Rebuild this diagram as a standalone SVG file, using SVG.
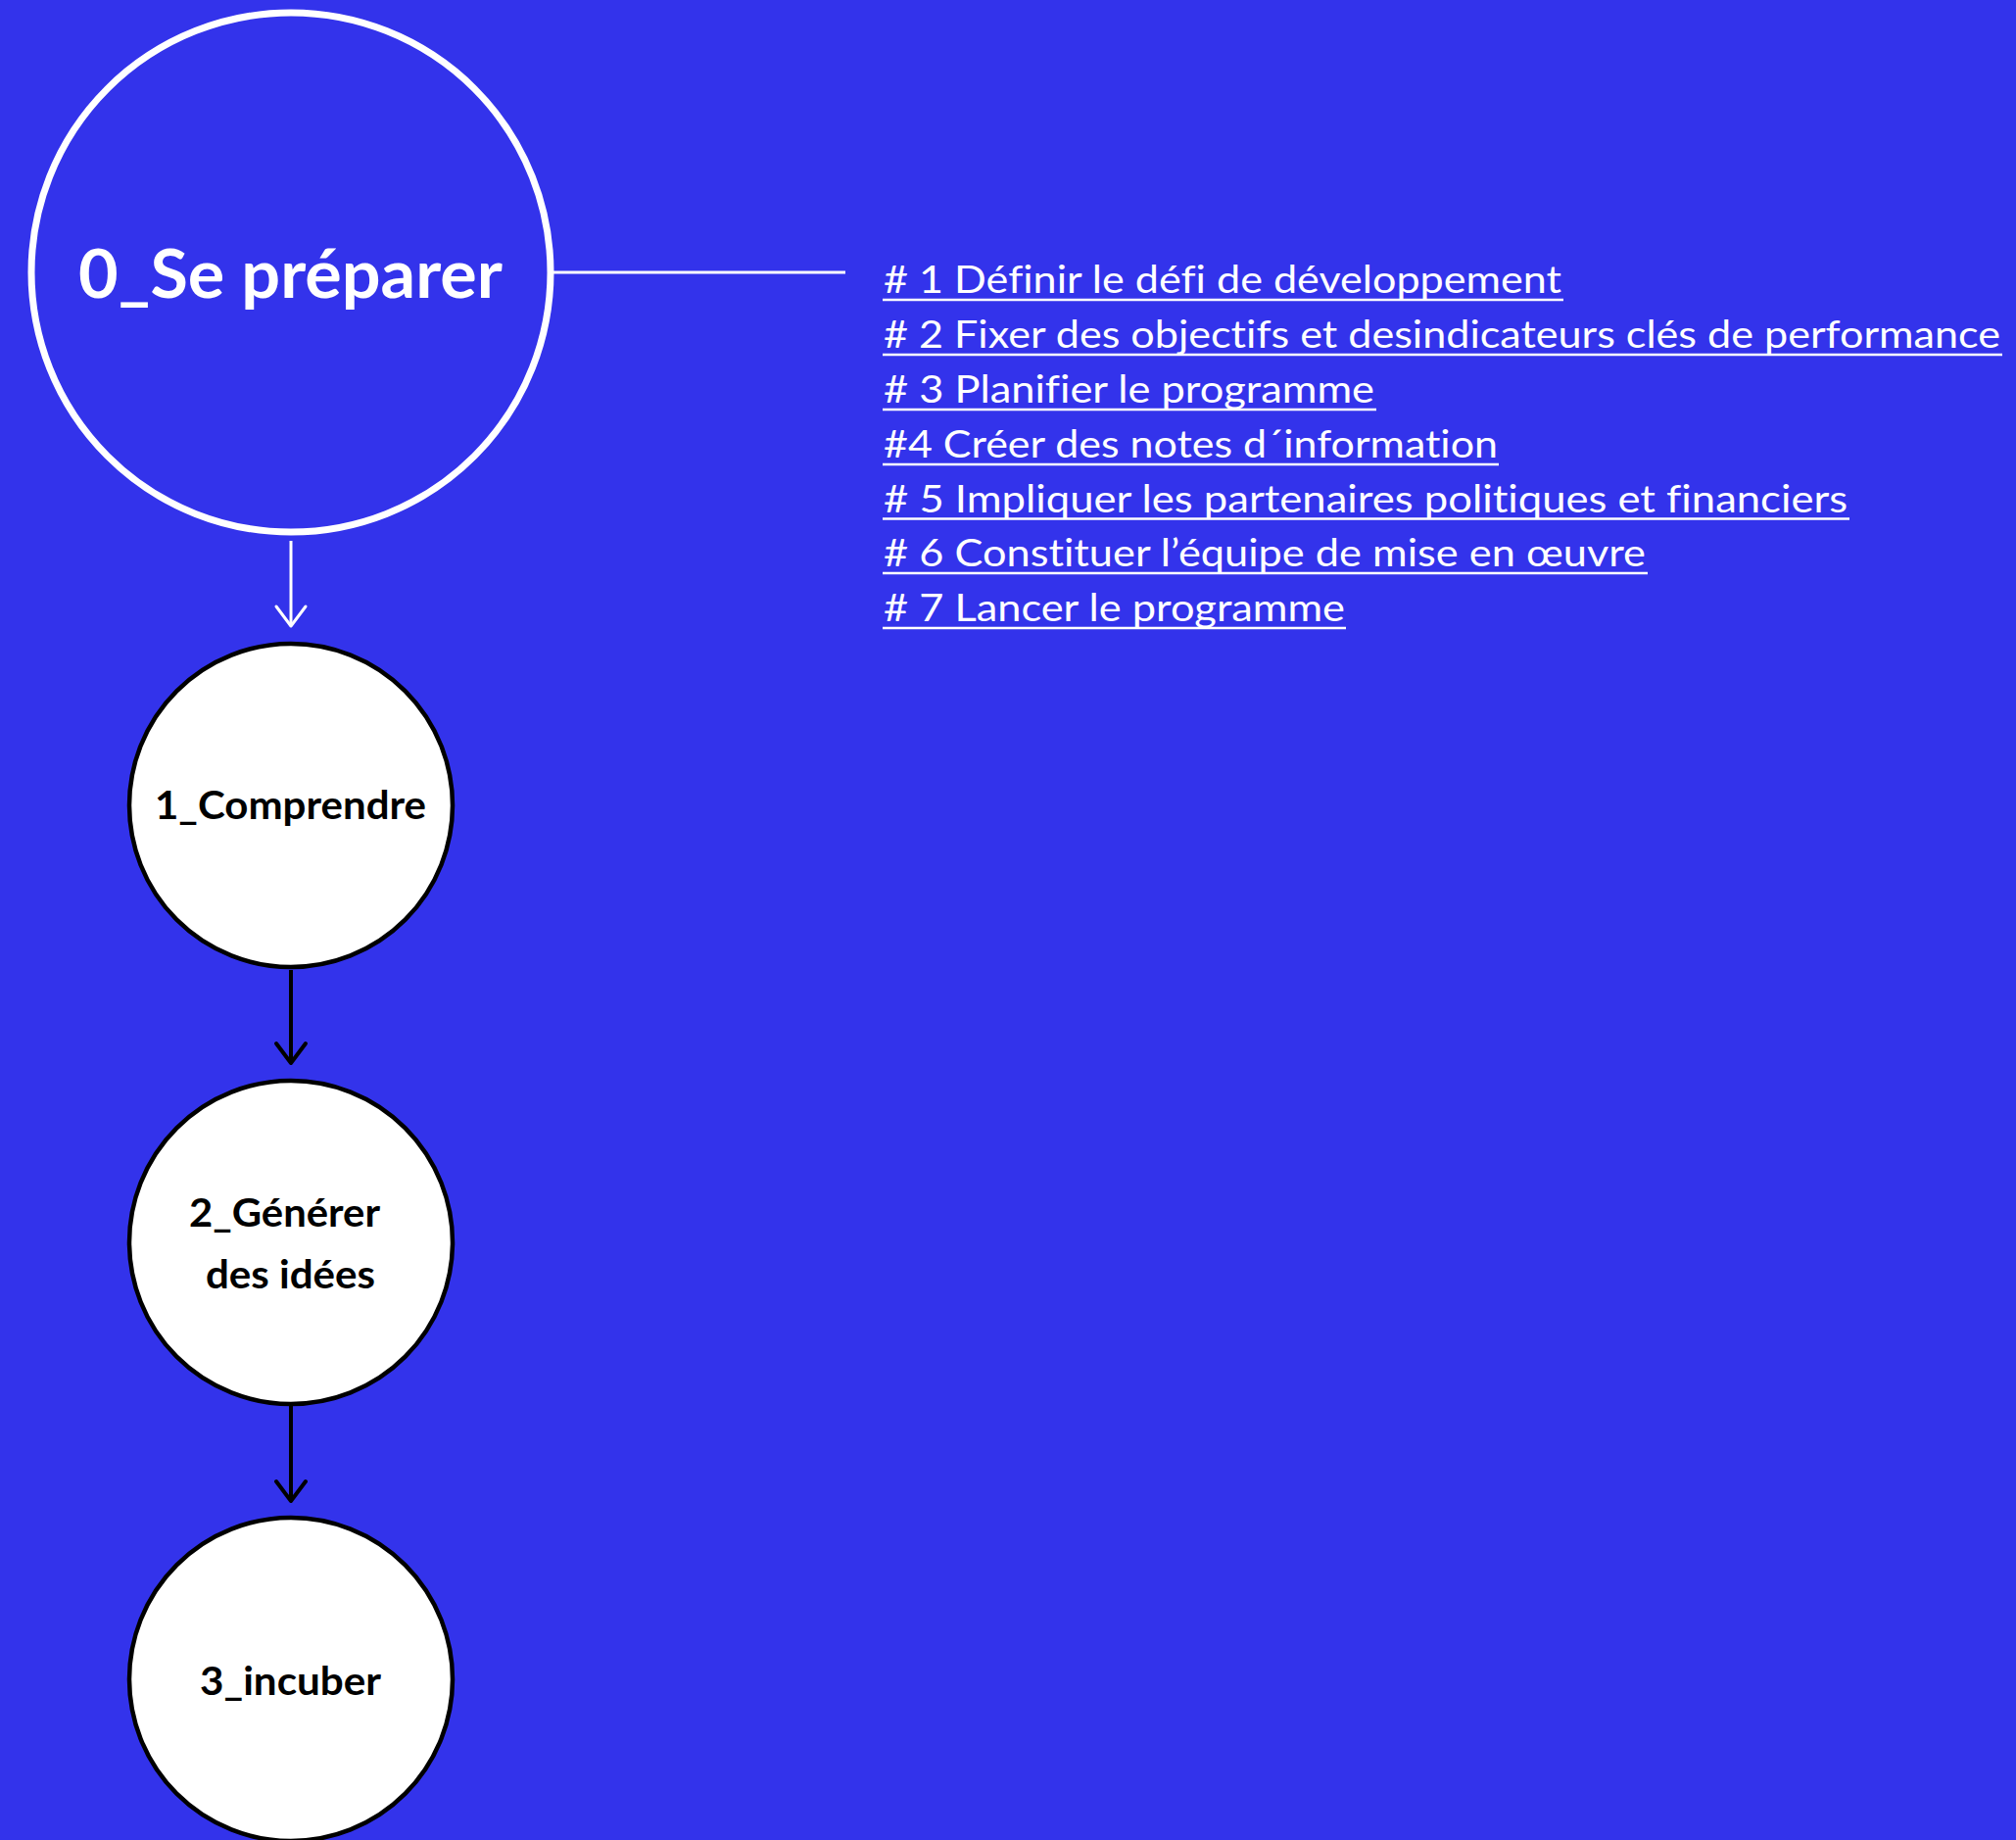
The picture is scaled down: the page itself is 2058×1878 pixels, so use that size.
<svg xmlns="http://www.w3.org/2000/svg" width="2058" height="1878" viewBox="0 0 2058 1878">
  <style>
    .bg { fill: #3333EB; }
    .hub { fill: none; stroke: #ffffff; stroke-width: 7; }
    .step { fill: #ffffff; stroke: #000000; stroke-width: 4.5; }
    text { font-variant-ligatures: none; }
    .hub-label { font-family: Lato, "Open Sans", "Liberation Sans", sans-serif; font-weight: 700; font-size: 68px; fill: #ffffff; }
    .step-label { font-family: Lato, "Open Sans", "Liberation Sans", sans-serif; font-weight: 700; font-size: 40px; fill: #000000; }
    .item { font-family: Lato, "Open Sans", "Liberation Sans", sans-serif; font-size: 39px; fill: #ffffff; }
    .uline { stroke: #ffffff; stroke-width: 2.5; }
    .link-white { stroke: #ffffff; stroke-width: 3; fill: none; }
    .link-black { stroke: #000000; stroke-width: 4; fill: none; }
  </style>
  <defs>
    <marker id="chev-white" markerUnits="userSpaceOnUse" markerWidth="40" markerHeight="40" refX="0" refY="0" orient="auto" overflow="visible">
      <path d="M-20,-15 L0,0 L-20,15" fill="none" stroke="#ffffff" stroke-width="3" stroke-linecap="round" stroke-linejoin="round"/>
    </marker>
    <marker id="chev-black" markerUnits="userSpaceOnUse" markerWidth="40" markerHeight="40" refX="0" refY="0" orient="auto" overflow="visible">
      <path d="M-20,-15 L0,0 L-20,15" fill="none" stroke="#000000" stroke-width="4" stroke-linecap="round" stroke-linejoin="round"/>
    </marker>
  </defs>

  <rect class="bg" x="0" y="0" width="2058" height="1878"/>

  <!-- connectors -->
  <g id="connectors">
    <line class="link-white" x1="565" y1="278" x2="863" y2="278"/>
    <line class="link-white" x1="297" y1="552" x2="297" y2="639" marker-end="url(#chev-white)"/>
    <line class="link-black" x1="297" y1="990" x2="297" y2="1085" marker-end="url(#chev-black)"/>
    <line class="link-black" x1="297" y1="1435" x2="297" y2="1532" marker-end="url(#chev-black)"/>
  </g>

  <!-- phase 0 -->
  <g id="node-0">
    <circle class="hub" cx="297" cy="278" r="265"/>
    <text class="hub-label" x="80" y="304" textLength="433" lengthAdjust="spacingAndGlyphs">0_Se préparer</text>
  </g>

  <!-- steps of phase 0 -->
  <g id="node-0-steps">
    <text class="item" x="902" y="299" textLength="692" lengthAdjust="spacingAndGlyphs"># 1 Définir le défi de développement</text>
    <line class="uline" x1="901" y1="306" x2="1596" y2="306"/>
    <text class="item" x="902" y="355" textLength="1140" lengthAdjust="spacingAndGlyphs"># 2 Fixer des objectifs et desindicateurs clés de performance</text>
    <line class="uline" x1="901" y1="362" x2="2044" y2="362"/>
    <text class="item" x="902" y="411" textLength="501" lengthAdjust="spacingAndGlyphs"># 3 Planifier le programme</text>
    <line class="uline" x1="901" y1="418" x2="1405" y2="418"/>
    <text class="item" x="902" y="467" textLength="627" lengthAdjust="spacingAndGlyphs">#4 Créer des notes d´information</text>
    <line class="uline" x1="901" y1="474" x2="1530" y2="474"/>
    <text class="item" x="902" y="522.5" textLength="984" lengthAdjust="spacingAndGlyphs"># 5 Impliquer les partenaires politiques et financiers</text>
    <line class="uline" x1="901" y1="529.5" x2="1888" y2="529.5"/>
    <text class="item" x="902" y="578" textLength="778" lengthAdjust="spacingAndGlyphs"># 6 Constituer l’équipe de mise en œuvre</text>
    <line class="uline" x1="901" y1="585" x2="1682" y2="585"/>
    <text class="item" x="902" y="634" textLength="471" lengthAdjust="spacingAndGlyphs"># 7 Lancer le programme</text>
    <line class="uline" x1="901" y1="641" x2="1374" y2="641"/>
  </g>

  <!-- phase 1 -->
  <g id="node-1">
    <circle class="step" cx="297" cy="822" r="165"/>
    <text class="step-label" x="158" y="836" textLength="277" lengthAdjust="spacingAndGlyphs">1_Comprendre</text>
  </g>

  <!-- phase 2 -->
  <g id="node-2">
    <circle class="step" cx="297" cy="1268" r="165"/>
    <text class="step-label" x="193" y="1252" textLength="195" lengthAdjust="spacingAndGlyphs">2_Générer</text>
    <text class="step-label" x="210" y="1315" textLength="173" lengthAdjust="spacingAndGlyphs">des idées</text>
  </g>

  <!-- phase 3 -->
  <g id="node-3">
    <circle class="step" cx="297" cy="1714" r="165"/>
    <text class="step-label" x="204" y="1730" textLength="185" lengthAdjust="spacingAndGlyphs">3_incuber</text>
  </g>
</svg>
